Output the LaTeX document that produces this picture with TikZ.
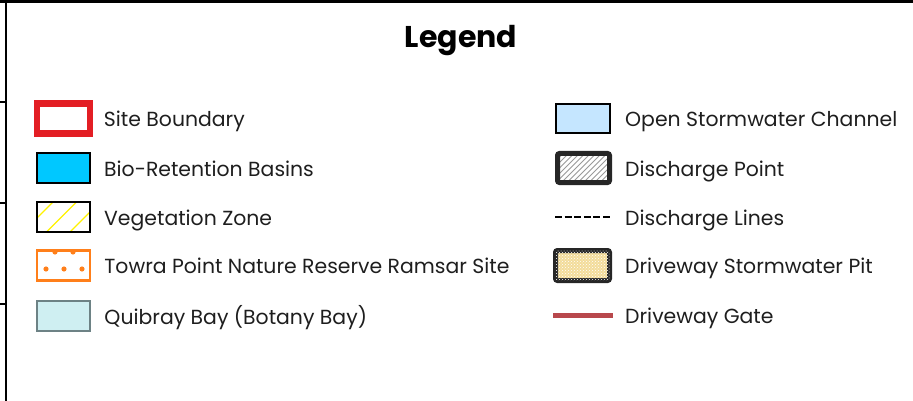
\documentclass[tikz,border=0pt]{standalone}
\usepackage{fontspec}
\setmainfont{Poppins}
\usepackage{tikz}
\usetikzlibrary{positioning,patterns,calc}

\definecolor{siteRed}{HTML}{E31E24}
\definecolor{bioBlue}{HTML}{00C8FF}
\definecolor{vegYellow}{HTML}{FFF200}
\definecolor{towraOrange}{HTML}{FF7F1A}
\definecolor{bayFill}{HTML}{CFEFF2}
\definecolor{bayEdge}{HTML}{6D8285}
\definecolor{chanBlue}{HTML}{C5E6FF}
\definecolor{pitEdge}{HTML}{262626}
\definecolor{pitFill}{HTML}{F3DC9A}
\definecolor{gateRed}{HTML}{B8484C}
\definecolor{txtGrey}{HTML}{1E1E1E}

\begin{document}
\begin{tikzpicture}[x=1pt,y=-1pt,
  sw/.style={rectangle,draw,minimum width=53pt,minimum height=30pt,inner sep=0pt,line width=2pt},
  thickbox/.style={sw,draw=pitEdge,line width=5pt,rounded corners=2pt},
  txt/.style={inner sep=0pt,text height=16pt,text depth=0pt,text=txtGrey,font=\fontsize{20.4}{24}\selectfont},
  dot/.style={fill=towraOrange,circle,inner sep=0pt,minimum size=5.2pt}]
  \useasboundingbox (0,0) rectangle (913,401);
  % frame
  \draw[line width=3pt] (0,1.5) -- (913,1.5);
  \draw[line width=2pt] (6,0) -- (6,401);
  \foreach \y in {102,203,304} \draw[line width=1.5pt] (0,\y) -- (6,\y);

  \node[font=\bfseries\fontsize{30}{36}\selectfont,text=black,anchor=base] (title) at (461,48) {Legend};

  % left column
  \node[sw,draw=siteRed,line width=6.5pt] (s1) at (63.5,118.5) {};
  \node[sw,fill=bioBlue] (s2) at (63.5,168) {};
  \node[sw,path picture={
      \foreach \i in {-14,9.5,33}
        \draw[vegYellow,line width=1.3pt] ([xshift=\i pt]path picture bounding box.south west) -- ++(40,-40);
    }] (s3) at (63.5,217) {};
  \node[sw,draw=towraOrange,line width=2.5pt] (s4) at (63.5,265.5) {};
  \foreach \dx in {-17.5,0.5,18.5} \node[dot] at ($(s4.center)+(\dx,3.5)$) {};
  \foreach \dx in {-8.5,9.5} \node[dot] at ($(s4.center)+(\dx,-13.5)$) {};
  \node[sw,draw=bayEdge,fill=bayFill,line width=2.5pt] (s5) at (63.5,316) {};

  \node[txt,right=10.5pt of s1] (t1) {Site Boundary};
  \node[txt,right=13pt of s2] (t2) {Bio-Retention Basins};
  \node[txt,right=13pt of s3] (t3) {Vegetation Zone};
  \node[txt,right=13pt of s4] (t4) {Towra Point Nature Reserve Ramsar Site};
  \node[txt,right=13pt of s5] (t5) {Quibray Bay (Botany Bay)};

  % right column
  \node[sw,fill=chanBlue,minimum width=54pt,minimum height=29pt] (r1) at (583,118.5) {};
  \node[thickbox,minimum width=52pt,minimum height=29pt,path picture={
      \foreach \i in {-40,-34.5,...,60}
        \draw[black!40,line width=0.8pt] ([xshift=\i pt]path picture bounding box.south west) -- ++(40,-40);
    }] (r2) at (583.5,168) {};
  \coordinate (d1) at (555,217);
  \coordinate (d2) at (611,217);
  \draw[line width=1.6pt,dash pattern=on 7pt off 2.6pt] (d1) -- (d2);
  \node[thickbox,minimum width=54pt,minimum height=30pt,fill=pitFill,
        postaction={pattern=crosshatch dots,pattern color=white}] (r4) at (582.5,265.5) {};
  \coordinate (g1) at (553,315.5);
  \coordinate (g2) at (613,315.5);
  \draw[gateRed,line width=5pt] (g1) -- (g2);

  \node[txt,right=14pt of r1] (u1) {Open Stormwater Channel};
  \node[txt,right=13pt of r2] (u2) {Discharge Point};
  \node[txt,anchor=west] (u3) at ($(d2)+(14,0)$) {Discharge Lines};
  \node[txt,right=13pt of r4] (u4) {Driveway Stormwater Pit};
  \node[txt,anchor=west] (u5) at ($(g2)+(12,0)$) {Driveway Gate};
\end{tikzpicture}
\end{document}
